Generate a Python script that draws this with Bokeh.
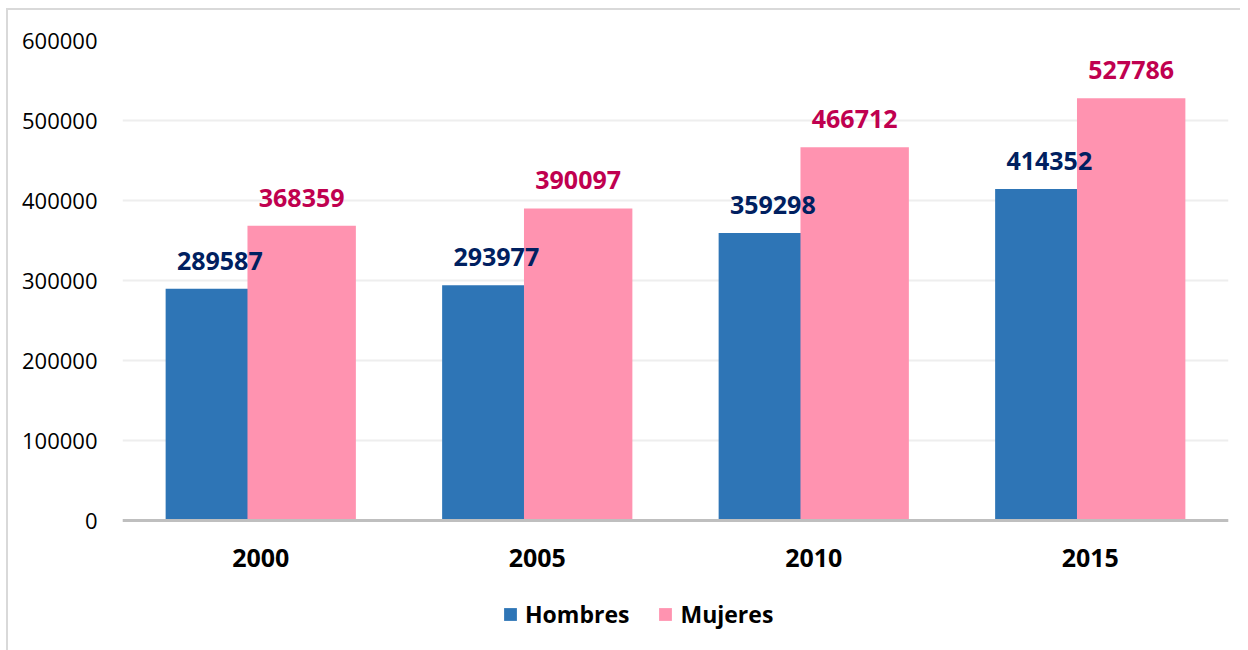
from bokeh.plotting import figure
from bokeh.models import ColumnDataSource, FactorRange, Range1d, LabelSet, Legend, LegendItem, FixedTicker, NumeralTickFormatter
from bokeh.core.properties import value
from bokeh.transform import dodge
from bokeh.embed import file_html
from bokeh.resources import INLINE

years = ["2000", "2005", "2010", "2015"]
hombres = [289587, 293977, 359298, 414352]
mujeres = [368359, 390097, 466712, 527786]
y_ticks = [0, 100000, 200000, 300000, 400000, 500000, 600000]

BLUE = "#2E75B6"
PINK = "#FF93B0"
BLUE_TXT = "#002060"
PINK_TXT = "#C0004F"
FONT = "Open Sans"

src = ColumnDataSource(dict(
    year=years,
    h=hombres,
    m=mujeres,
    hl=[str(v) for v in hombres],
    ml=[str(v) for v in mujeres],
))

# frame extends below the zero line to hold the category labels and legend
p = figure(frame_width=1106, frame_height=600, x_range=FactorRange(*years), y_range=Range1d(-150000, 600000),
           output_backend="svg", toolbar_location=None,
           min_border_left=114, min_border_right=12, min_border_top=30, min_border_bottom=20)
p.styles = {"border-top": "2px solid #d9d9d9", "border-left": "2px solid #d9d9d9",
            "margin-left": "6px", "margin-top": "8px"}
p.outline_line_color = None
p.background_fill_color = "white"
p.border_fill_color = "white"

rb = p.vbar(x=dodge("year", -0.148, range=p.x_range), top="h", bottom=0, width=0.392, source=src,
            fill_color=BLUE, line_color=None)
rp = p.vbar(x=dodge("year", 0.148, range=p.x_range), top="m", bottom=0, width=0.392, source=src,
            fill_color=PINK, line_color=None)

lb = LabelSet(x=dodge("year", -0.148, range=p.x_range), y="h", text="hl", source=src,
              text_align="center", text_baseline="middle", y_offset=28,
              text_font=value(FONT), text_font_style="bold", text_font_size="25px", text_color=BLUE_TXT)
lm = LabelSet(x=dodge("year", 0.148, range=p.x_range), y="m", text="ml", source=src,
              text_align="center", text_baseline="middle", y_offset=28,
              text_font=value(FONT), text_font_style="bold", text_font_size="25px", text_color=PINK_TXT)
p.add_layout(lb)
p.add_layout(lm)

# y axis
p.yaxis.ticker = FixedTicker(ticks=y_ticks)
p.yaxis.formatter = NumeralTickFormatter(format="0")
p.yaxis.axis_line_color = None
p.yaxis.major_tick_line_color = None
p.yaxis.minor_tick_line_color = None
p.yaxis.major_label_standoff = 19
p.yaxis.major_label_text_font = FONT
p.yaxis.major_label_text_font_size = "22px"
p.yaxis.major_label_text_color = "#000000"

p.ygrid.grid_line_color = "#eeeeee"
p.ygrid.grid_line_width = 2
p.xgrid.grid_line_color = None

# x axis drawn at the zero line
p.xaxis.fixed_location = 0
p.xaxis.axis_line_color = "#bfbfbf"
p.xaxis.axis_line_width = 3
p.xaxis.major_tick_line_color = None
p.xaxis.minor_tick_line_color = None
p.xaxis.major_label_standoff = 22
p.xaxis.major_label_text_font = FONT
p.xaxis.major_label_text_font_style = "bold"
p.xaxis.major_label_text_font_size = "25px"
p.xaxis.major_label_text_color = "#000000"

legend = Legend(items=[LegendItem(label="Hombres", renderers=[rb]),
                       LegendItem(label="Mujeres", renderers=[rp])],
                orientation="horizontal", location=(380, 10),
                glyph_width=16, glyph_height=16, label_standoff=7, spacing=28,
                label_text_font=FONT, label_text_font_style="bold", label_text_font_size="23px",
                label_text_color="#000000", border_line_color=None, background_fill_alpha=0,
                padding=0, margin=0)
p.add_layout(legend, "center")

open("out.html", "w").write(file_html(p, INLINE))
